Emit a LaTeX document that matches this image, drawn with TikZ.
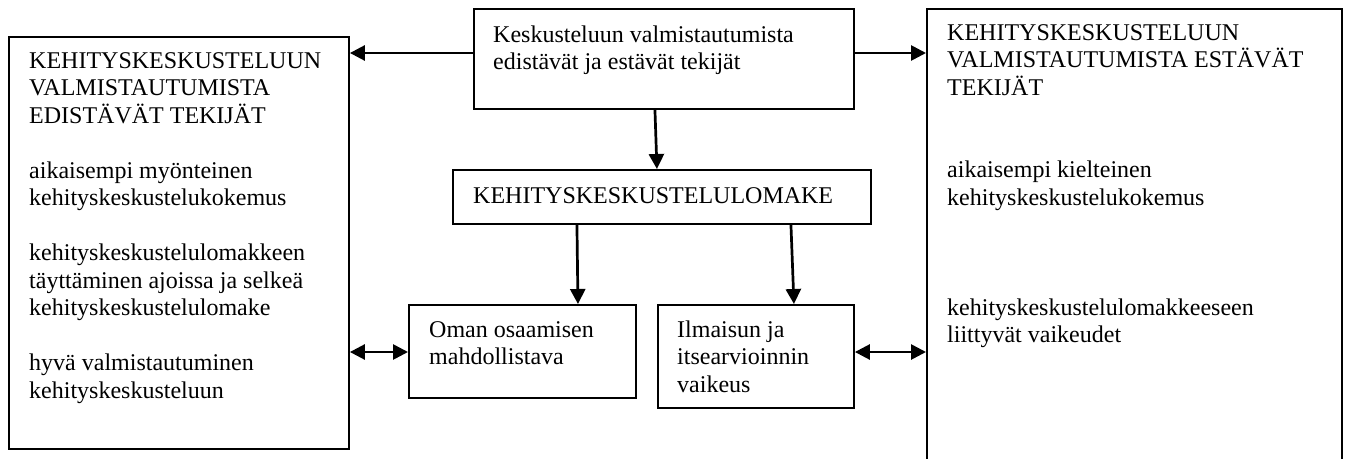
\documentclass[tikz,border=0pt]{standalone}
\usepackage{fontspec}
\setmainfont{Liberation Serif}
\usetikzlibrary{arrows.meta,calc}
\newcommand{\txtlines}[1]{\begin{tabular}[t]{@{}l@{}}#1\end{tabular}}
\begin{document}
\begin{tikzpicture}[x=1pt,y=-1pt,
 box/.style={draw, line width=1.9pt, inner sep=0, anchor=north west},
 txt/.style={anchor=base west, inner sep=0, font=\fontsize{24}{27.5}\selectfont},
 conn/.style={line width=2.7pt, -{Triangle[length=15pt,width=15pt]}},
 dconn/.style={line width=2.7pt, {Triangle[length=15pt,width=15pt]}-{Triangle[length=15pt,width=15pt]}}]
\useasboundingbox (0,0) rectangle (1349,458);
\node[box, minimum width=340pt, minimum height=412pt] (L) at (8,36) {};
\node[box, minimum width=380pt, minimum height=100pt] (T) at (473,8) {};
\node[box, minimum width=415pt, minimum height=470pt] (R) at (926,8) {};
\node[box, minimum width=418pt, minimum height=54pt] (F) at (452,169) {};
\node[box, minimum width=227pt, minimum height=93pt] (O) at (408,304) {};
\node[box, minimum width=196pt, minimum height=103pt] (I) at (657,304) {};

\node[txt] (Lt) at (29,68) {\txtlines{KEHITYSKESKUSTELUUN\\VALMISTAUTUMISTA\\EDISTÄVÄT TEKIJÄT\\[27.5pt]aikaisempi myönteinen\\kehityskeskustelukokemus\\[27.5pt]kehityskeskustelulomakkeen\\täyttäminen ajoissa ja selkeä\\kehityskeskustelulomake\\[27.5pt]hyvä valmistautuminen\\kehityskeskusteluun}};
\node[txt] (Tt) at (493,42) {\txtlines{Keskusteluun valmistautumista\\edistävät ja estävät tekijät}};
\node[txt] (Rt) at (947,40) {\txtlines{KEHITYSKESKUSTELUUN\\VALMISTAUTUMISTA ESTÄVÄT\\TEKIJÄT\\[55pt]aikaisempi kielteinen\\kehityskeskustelukokemus\\[82.5pt]kehityskeskustelulomakkeeseen\\liittyvät vaikeudet}};
\node[txt] (Ft) at (473,203) {KEHITYSKESKUSTELULOMAKE};
\node[txt] (Ot) at (429,337) {\txtlines{Oman osaamisen\\mahdollistava}};
\node[txt] (It) at (677,337) {\txtlines{Ilmaisun ja\\itsearvioinnin\\vaikeus}};

\coordinate (y1) at (0,53);
\coordinate (y2) at (0,352);
\draw[conn] (T.west |- y1) -- (L.east |- y1);
\draw[conn] (T.east |- y1) -- (R.west |- y1);
\draw[conn] ($(T.south)+(-9,0)$) -- ($(F.north)+(-5,0)$);
\draw[conn] ($(F.south)+(-85,0)$) -- ($(O.north)+(55.5,0)$);
\draw[conn] ($(F.south)+(129,0)$) -- ($(I.north)+(38,0)$);
\draw[dconn] (L.east |- y2) -- (O.west |- y2);
\draw[dconn] (I.east |- y2) -- (R.west |- y2);
\end{tikzpicture}
\end{document}
